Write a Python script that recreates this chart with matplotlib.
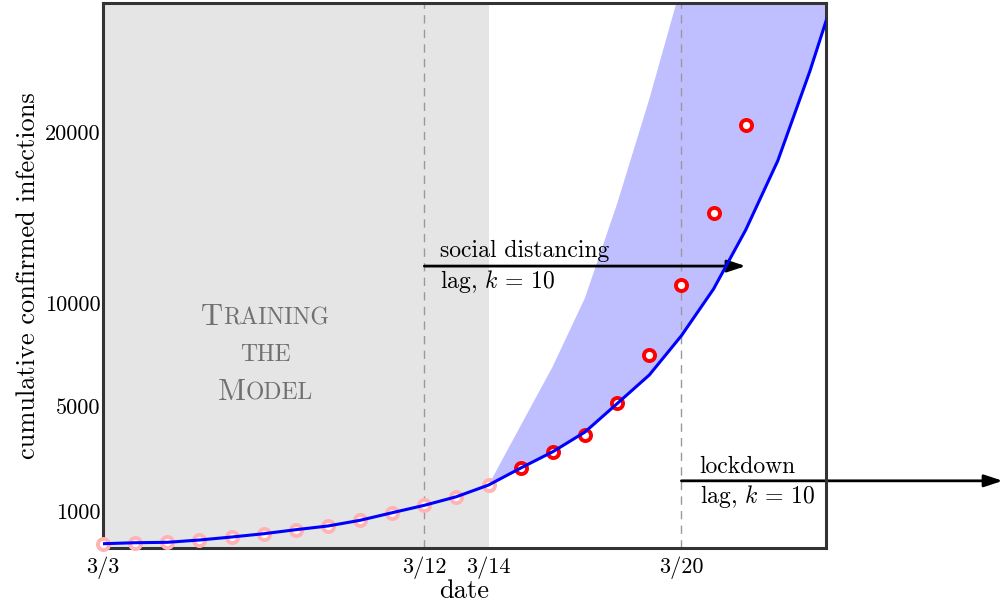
import numpy as np
import matplotlib
matplotlib.use("Agg")
import matplotlib.pyplot as plt
from matplotlib.offsetbox import TextArea, HPacker, VPacker, AnnotationBbox

plt.rcParams['font.family'] = 'cmr10'
plt.rcParams['mathtext.fontset'] = 'cm'
plt.rcParams['axes.formatter.use_mathtext'] = True

# day index since 3/3
days = np.arange(24)
fit = [116, 143, 154, 216, 297, 386, 495, 595, 749, 954, 1217, 1545, 1990,
       2638, 3259, 4010, 5117, 6505, 8413, 10819, 14269, 18322, 23567, 29400]
obs_train = [116, 143, 154, 216, 297, 386, 495, 595, 749, 954, 1217, 1545, 1990]
obs_test = [2650, 3263, 3903, 5126, 7466, 11058, 15257, 20392]
band_days = np.arange(12, 24)
band_upper = [1990, 4257, 6932, 10304, 15807, 21918, 28596, 36000, 45000,
              55000, 66000, 80000]

tick_days = [0, 10, 12, 18]
tick_dates = ['3/3', '3/12', '3/14', '3/20']
yticks = [1000, 5000, 10000, 20000]

# the y axis of the original is stretched unevenly between its ticks
anchor_vals = np.array([0, 1000, 5000, 10000, 20000, 100000])
anchor_pos = np.array([0, 37, 142, 245, 416, 1784])


def fwd(v):
    return np.interp(v, anchor_vals, anchor_pos)


def inv(p):
    return np.interp(p, anchor_pos, anchor_vals)


fig = plt.figure(figsize=(10, 6.04), dpi=100)
ax = fig.add_axes([0.103, 0.0927, 0.723, 0.9023])
ax.set_yscale('function', functions=(fwd, inv))

ax.axvspan(0, 12, color='black', alpha=0.1, lw=0, zorder=0)
ax.fill_between(band_days, fit[12:], band_upper, color='#bfbfff', lw=0, zorder=1)
for d in [10, 18]:
    ax.axvline(d, color='#999999', lw=1, dashes=(6, 4.5), zorder=2)

ax.plot(days[:13], obs_train, 'o', ms=8, mew=2.8, mec='#ffb3b3', mfc='white',
        zorder=8, clip_on=False)
ax.plot(days[13:21], obs_test, 'o', ms=8, mew=2.8, mec='red', mfc='white', zorder=8)
ax.plot(days, fit, color='blue', lw=2.2, zorder=9)

arrow = dict(arrowstyle='-|>,head_length=1.0,head_width=0.33', color='black',
             lw=2, shrinkA=0, shrinkB=0, mutation_scale=11)
ax.annotate('', xy=(20, 12160), xytext=(10, 12160), arrowprops=arrow, zorder=5)
ax.annotate('', xy=(28, 2150), xytext=(18, 2150), arrowprops=arrow,
            annotation_clip=False, zorder=5)
ax.text(10.5, 12708, 'social distancing', fontsize=17, va='baseline')
ax.text(10.5, 10877, r'lag, $k$ = 10', fontsize=17, va='baseline')
ax.text(18.57, 2436, 'lockdown', fontsize=17, va='baseline')
ax.text(18.57, 1293, r'lag, $k$ = 10', fontsize=17, va='baseline')


def small_caps(word, big=22, small=17, color='#707070'):
    parts = [TextArea(word[0], textprops=dict(fontsize=big, color=color))] if word[0].isupper() else []
    rest = word[1:] if word[0].isupper() else word
    parts.append(TextArea(rest.upper(), textprops=dict(fontsize=small, color=color)))
    return HPacker(children=parts, align='baseline', pad=0, sep=0)


block = VPacker(children=[small_caps('Training'), small_caps('the'), small_caps('Model')],
                align='center', pad=0, sep=9)
ab = AnnotationBbox(block, (5.05, 7500), frameon=False, box_alignment=(0.5, 0.5), zorder=6)
ax.add_artist(ab)

ax.set_xlim(0, 22.5)
ax.set_ylim(0, 27544)
ax.set_xticks(tick_days)
ax.set_xticklabels(tick_dates)
ax.set_yticks(yticks)
ax.set_yticklabels([str(t) for t in yticks])
ax.minorticks_off()
ax.tick_params(length=0, labelsize=16)
ax.tick_params(axis='x', pad=6)
ax.tick_params(axis='y', pad=2)
for s in ax.spines.values():
    s.set_linewidth(2.2)
    s.set_color('#333333')
    s.set_zorder(7)
ax.set_xlabel('date', fontsize=19, labelpad=0)
ax.set_ylabel('cumulative confirmed infections', fontsize=19, labelpad=3)

fig.savefig('out.png', dpi=100)
